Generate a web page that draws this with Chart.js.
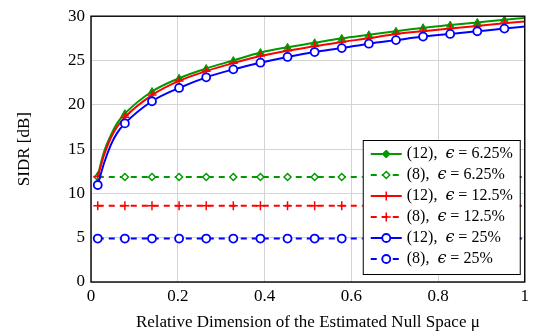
<!DOCTYPE html>
<html>
<head>
<meta charset="utf-8">
<script src="https://cdn.jsdelivr.net/npm/chart.js@4/dist/chart.umd.min.js"></script>
<style>body{margin:0;background:#fff}</style>
</head>
<body>
<canvas id="myChart" width="533" height="336"></canvas>
<script>
// mu values of the solid (12) curves, a few extra points near the steep start
const mu = [0.0156, 0.03, 0.045, 0.06, 0.0781, 0.1406, 0.2031, 0.2656, 0.3281, 0.3906,
            0.4531, 0.5156, 0.5781, 0.6406, 0.7031, 0.7656, 0.8281, 0.8906, 0.9531, 1];
// where the markers sit
const markerMu = [0.0156, 0.0781, 0.1406, 0.2031, 0.2656, 0.3281, 0.3906, 0.4531,
                  0.5156, 0.5781, 0.6406, 0.7031, 0.7656, 0.8281, 0.8906, 0.9531];
// mu values of the dashed (8) lines
const dashMu = [0.0156, 0.0781, 0.1406, 0.2031, 0.2656, 0.3281, 0.3906, 0.4531,
                0.5156, 0.5781, 0.6406, 0.7031, 0.7656, 0.8281, 0.8906, 0.9531, 1];

const sidr12_625 = [12.0, 14.7, 16.5, 17.9, 19.0, 21.5, 23.0, 24.1, 25.0, 25.9,
                    26.5, 27.0, 27.5, 27.9, 28.3, 28.7, 29.0, 29.3, 29.6, 29.8];
const sidr12_125 = [11.9, 14.3, 16.2, 17.5, 18.6, 21.1, 22.7, 23.8, 24.7, 25.5,
                    26.1, 26.6, 27.1, 27.5, 28.0, 28.3, 28.6, 28.9, 29.2, 29.4];
const sidr12_25  = [10.95, 13.4, 15.4, 16.8, 17.9, 20.4, 21.9, 23.1, 24.0, 24.75,
                    25.4, 25.95, 26.4, 26.9, 27.3, 27.7, 28.0, 28.3, 28.6, 28.85];
const sidr8_625 = [11.85, 11.85, 11.85, 11.85, 11.85, 11.85, 11.85, 11.85, 11.85,
                   11.85, 11.85, 11.85, 11.85, 11.85, 11.85, 11.85, 11.85];
const sidr8_125 = [8.6, 8.6, 8.6, 8.6, 8.6, 8.6, 8.6, 8.6, 8.6,
                   8.6, 8.6, 8.6, 8.6, 8.6, 8.6, 8.6, 8.6];
const sidr8_25  = [4.9, 4.9, 4.9, 4.9, 4.9, 4.9, 4.9, 4.9, 4.9,
                   4.9, 4.9, 4.9, 4.9, 4.9, 4.9, 4.9, 4.9];

const labels = ['(12),  ϵ = 6.25%', '(8),  ϵ = 6.25%', '(12),  ϵ = 12.5%',
                '(8),  ϵ = 12.5%', '(12),  ϵ = 25%', '(8),  ϵ = 25%'];
const xTicks = [0, 0.2, 0.4, 0.6, 0.8, 1];
const yTicks = [0, 5, 10, 15, 20, 25, 30];

const green = '#009a00', red = '#ff0000', blue = '#0000ff';

const pts = (xs, ys) => xs.map((x, i) => ({x: x, y: ys[i]}));
const markAt = r => ctx => markerMu.includes(ctx.parsed.x) ? r : 0;

const makeSet = (label, xs, ys, color, dashed, style, fill, r, bw, order, legendMarker) => ({
    label: label,
    data: pts(xs, ys),
    borderColor: color,
    borderWidth: 2,
    borderDash: dashed ? [6, 5] : [],
    cubicInterpolationMode: 'monotone',
    pointStyle: style,
    pointBackgroundColor: fill,
    pointBorderColor: color,
    pointBorderWidth: bw,
    pointRadius: markAt(r),
    legendRadius: r,
    legendMarker: legendMarker,
    order: order
})

const frame = {
    id: 'frame',
    afterDatasetsDraw(chart) {
        const {ctx, chartArea: a} = chart;
        ctx.save();
        ctx.strokeStyle = '#000';
        ctx.lineWidth = 1.4;
        ctx.strokeRect(a.left, a.top, a.right - a.left, a.bottom - a.top);
        ctx.restore();
    }
};

// legend box inside the plot, line sample + marker + label with italic epsilon
const boxLegend = {
    id: 'boxLegend',
    afterDraw(chart) {
        const {ctx, chartArea: a} = chart;
        const w = 157, h = 134;
        const x0 = a.right - 5 - w, y0 = a.bottom - 8 - h;
        ctx.save();
        ctx.fillStyle = '#fff';
        ctx.fillRect(x0, y0, w, h);
        ctx.strokeStyle = '#000';
        ctx.lineWidth = 1;
        ctx.strokeRect(x0 + 0.5, y0 + 0.5, w, h);
        chart.data.datasets.forEach((ds, i) => {
            const y = y0 + 14 + i * 21;
            ctx.strokeStyle = ds.borderColor;
            ctx.lineWidth = ds.borderWidth;
            ctx.setLineDash(ds.borderDash);
            ctx.beginPath();
            ctx.moveTo(x0 + 8, y);
            ctx.lineTo(x0 + 39, y);
            ctx.stroke();
            ctx.setLineDash([]);
            ctx.fillStyle = ds.pointBackgroundColor;
            ctx.strokeStyle = ds.pointBorderColor;
            ctx.lineWidth = ds.pointBorderWidth;
            Chart.helpers.drawPoint(ctx, {
                pointStyle: ds.legendMarker || ds.pointStyle,
                radius: ds.legendRadius,
                rotation: 0,
                borderWidth: ds.pointBorderWidth
            }, x0 + 23.5, y);

            ctx.fillStyle = '#000';
            ctx.textBaseline = 'middle';
            const parts = ds.label.split('ϵ');
            let tx = x0 + 44;
            ctx.font = '16px "Liberation Serif"';
            ctx.fillText(parts[0], tx, y);
            tx += ctx.measureText(parts[0]).width;
            ctx.font = 'italic 16px "DejaVu Serif"';
            ctx.fillText('ϵ', tx, y);
            tx += ctx.measureText('ϵ').width;
            ctx.font = '16px "Liberation Serif"';
            ctx.fillText(parts[1], tx, y);
        });
        ctx.restore();
    }
};

Chart.defaults.font.family = '"Liberation Serif", serif';
Chart.defaults.font.size = 17;
Chart.defaults.color = '#000';

const ctx = document.getElementById('myChart').getContext('2d');
new Chart(ctx, {
    type: 'line',
    data: {
        datasets: [
            makeSet(labels[0], mu, sidr12_625, green, false, 'triangle', green, 4, 1, 5, 'rectRot'),
            makeSet(labels[1], dashMu, sidr8_625, green, true, 'rectRot', '#fff', 3.5, 1.5, 4),
            makeSet(labels[2], mu, sidr12_125, red, false, 'cross', red, 4.5, 1.5, 3),
            makeSet(labels[3], dashMu, sidr8_125, red, true, 'cross', red, 4.5, 1.5, 2),
            makeSet(labels[4], mu, sidr12_25, blue, false, 'circle', '#fff', 4, 1.8, 1),
            makeSet(labels[5], dashMu, sidr8_25, blue, true, 'circle', '#fff', 4, 1.8, 0)
        ]
    },
    options: {
        responsive: false,
        animation: false,
        layout: {padding: {left: 0, top: 8, right: 7, bottom: 0}},
        plugins: {legend: {display: false}, tooltip: {enabled: false}},
        scales: {
            x: {
                type: 'linear',
                min: 0,
                max: 1,
                afterBuildTicks: s => { s.ticks = xTicks.map(v => ({value: v})) },
                afterFit: s => { s.height = 54 },
                ticks: {padding: 4, maxRotation: 0, callback: v => String(v)},
                grid: {color: '#d4d4d4', drawTicks: false},
                border: {display: false},
                title: {display: true, text: 'Relative Dimension of the Estimated Null Space μ',
                        padding: {top: 0, bottom: 3}}
            },
            y: {
                min: 0,
                max: 30,
                afterBuildTicks: s => { s.ticks = yTicks.map(v => ({value: v})) },
                afterFit: s => { s.width = 91 },
                ticks: {padding: 6},
                grid: {color: '#d4d4d4', drawTicks: false},
                border: {display: false},
                title: {display: true, text: 'SIDR [dB]', padding: {top: 14, bottom: 0}}
            }
        }
    },
    plugins: [frame, boxLegend]
});
</script>
</body>
</html>
